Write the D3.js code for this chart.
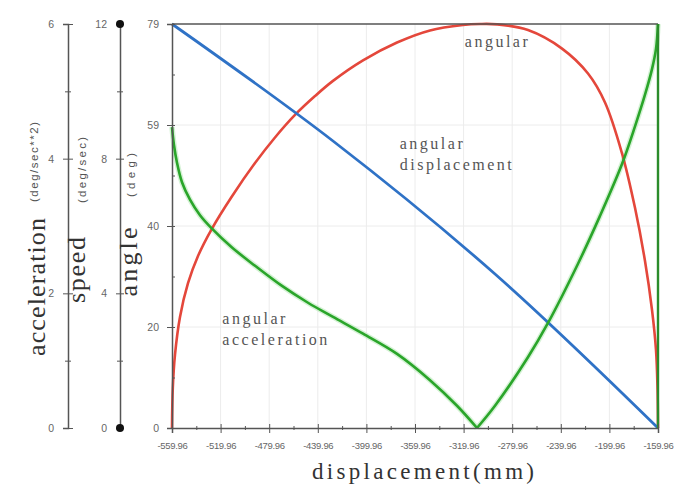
<!DOCTYPE html>
<html>
<head>
<meta charset="utf-8">
<script src="https://cdn.jsdelivr.net/npm/d3@7"></script>
<style>
  html, body { margin: 0; padding: 0; background: #fff; }
  svg { display: block; }
</style>
</head>
<body>
<svg id="chart" width="678" height="488"></svg>
<script>
// ---------------- data ----------------
const xTicks = [-559.96, -519.96, -479.96, -439.96, -399.96, -359.96, -319.96, -279.96, -239.96, -199.96, -159.96];
const xTickLabels = ["-559.96", "-519.96", "-479.96", "-439.96", "-399.96", "-359.96", "-319.96", "-279.96", "-239.96", "-199.96", "-159.96"];
const xMinorTicks = [-539.96, -499.96, -459.96, -419.96, -379.96, -339.96, -299.96, -259.96, -219.96, -179.96];

const angleTicks = [0, 19.75, 39.5, 59.25, 79];
const angleTickLabels = ["0", "20", "40", "59", "79"];
const angleMinorTicks = [9.875, 29.625, 49.375, 69.125];
const speedTicks = [0, 4, 8, 12];
const speedMinorTicks = [2, 10];
const accelTicks = [0, 2, 4, 6];
const accelMinorTicks = [1, 5];

// angular displacement (deg)
const dispX = [-559.96, -427.45, -294.12, -159.96];
const dispAngle = [79, 56.12, 30.11, 0];

// angular speed (deg/sec)
const speedX = [-559.96, -559.30, -557.49, -553.38, -546.79, -538.56, -527.28, -510.82, -491.65, -475.19, -458.73, -442.26, -427.45, -402.76, -374.77, -347.61, -320.45, -306.46, -292.47, -266.95, -238.97, -217.57, -203.58, -189.59, -178.89, -170.66, -164.90, -161.61, -160.37, -159.96];
const speedVal = [0, 1.19, 2.18, 3.30, 4.30, 5.11, 5.91, 6.87, 7.87, 8.63, 9.30, 9.86, 10.31, 10.92, 11.45, 11.81, 11.97, 12.0, 11.99, 11.82, 11.27, 10.53, 9.67, 8.16, 6.54, 4.96, 3.51, 2.32, 1.19, 0];

// angular acceleration (deg/sec^2): falling branch, rising branch, final drop
const accFallX = [-559.96, -558.31, -555.84, -551.73, -545.15, -536.91, -527.04, -510.58, -491.65, -469.42, -448.03, -427.45, -402.76, -374.77, -347.61, -325.39, -308.93];
const accFallVal = [4.47, 4.20, 3.94, 3.65, 3.39, 3.16, 2.96, 2.68, 2.41, 2.11, 1.86, 1.65, 1.40, 1.10, 0.71, 0.33, 0];
const accRiseX = [-308.93, -294.12, -267.00, -250.49, -225.80, -207.70, -189.59, -178.89, -170.66, -164.90, -161.61, -159.96];
const accRiseVal = [0, 0.33, 1.05, 1.56, 2.44, 3.15, 3.92, 4.48, 4.95, 5.33, 5.63, 6.0];
const accDropX = [-159.96, -159.96];
const accDropVal = [6.0, 0];

const labels = [
  { lines: ["angular"], x: -319, y: 74.5 },
  { lines: ["angular", "displacement"], x: -372.5, y: 54.5 },
  { lines: ["angular", "acceleration"], x: -518.5, y: 20.3 }
];

// ---------------- layout ----------------
const L = 172, R = 658, T = 24, B = 428;
const svg = d3.select("#chart");

const x = d3.scaleLinear().domain([-559.96, -159.96]).range([L, R]);
const yAngle = d3.scaleLinear().domain([0, 79]).range([B, T]);
const ySpeed = d3.scaleLinear().domain([0, 12]).range([B, T]);
const yAcc = d3.scaleLinear().domain([0, 6]).range([B, T]);

const axisColor = "#555";
const gridColor = "#ececec";

// grid
const grid = svg.append("g");
grid.selectAll("line.gx").data(xTicks.slice(1, -1)).enter().append("line")
  .attr("x1", d => x(d)).attr("x2", d => x(d)).attr("y1", T).attr("y2", B)
  .attr("stroke", gridColor).attr("stroke-width", 1);
grid.selectAll("line.gy").data(angleTicks.slice(1, -1)).enter().append("line")
  .attr("x1", L).attr("x2", R).attr("y1", d => yAngle(d)).attr("y2", d => yAngle(d))
  .attr("stroke", gridColor).attr("stroke-width", 1);

// curves
const colors = { disp: "#2f72c6", speed: "#e4473b", acc: "#2aa52a" };
function pts(xs, ys) { return xs.map((v, i) => [v, ys[i]]); }
const smooth = d3.curveCatmullRom.alpha(0.5);

const accLine = d3.line().x(d => x(d[0])).y(d => yAcc(d[1])).curve(smooth);
[pts(accFallX, accFallVal), pts(accRiseX, accRiseVal)].forEach(p => {
  svg.append("path").datum(p)
    .attr("fill", "none").attr("stroke", "#b9eab9").attr("stroke-width", 5.5).attr("opacity", 0.6)
    .attr("d", accLine);
});

svg.append("path")
  .datum(pts(speedX, speedVal))
  .attr("fill", "none").attr("stroke", colors.speed).attr("stroke-width", 2.6)
  .attr("d", d3.line().x(d => x(d[0])).y(d => ySpeed(d[1])).curve(smooth));

svg.append("path")
  .datum(pts(dispX, dispAngle))
  .attr("fill", "none").attr("stroke", colors.disp).attr("stroke-width", 2.8)
  .attr("d", d3.line().x(d => x(d[0])).y(d => yAngle(d[1])).curve(d3.curveCatmullRom));

[pts(accFallX, accFallVal), pts(accRiseX, accRiseVal)].forEach(p => {
  svg.append("path").datum(p)
    .attr("fill", "none").attr("stroke", colors.acc).attr("stroke-width", 2.6)
    .attr("d", accLine);
});

// frame (top and right)
svg.append("line").attr("x1", L).attr("x2", R).attr("y1", T).attr("y2", T)
  .attr("stroke", axisColor).attr("stroke-width", 1.5);
svg.append("line").attr("x1", R).attr("x2", R).attr("y1", T).attr("y2", B)
  .attr("stroke", axisColor).attr("stroke-width", 1.5);

svg.append("path")
  .datum(pts(accDropX, accDropVal))
  .attr("fill", "none").attr("stroke", "#2b8c2b").attr("stroke-width", 2.4)
  .attr("d", d3.line().x(d => x(d[0])).y(d => yAcc(d[1])));

// ---------------- axes ----------------
function styleAxis(g, fontSize) {
  g.select(".domain").attr("stroke", axisColor).attr("stroke-width", 1.5);
  g.selectAll(".tick line").attr("stroke", axisColor).attr("stroke-width", 1);
  g.selectAll(".tick text").attr("fill", "#666")
    .attr("font-family", "Liberation Sans, Arial, sans-serif")
    .attr("font-size", fontSize);
}

// x axis
const gx = svg.append("g").attr("transform", `translate(0,${B})`)
  .call(d3.axisBottom(x).tickValues(xTicks).tickFormat((d, i) => xTickLabels[i]).tickSizeOuter(0).tickSize(5).tickPadding(9));
styleAxis(gx, "9.5px");
gx.selectAll(".tick line").attr("y1", -4).attr("y2", 5);
gx.selectAll(".tick text").attr("letter-spacing", "-0.3px");
const gxm = svg.append("g").attr("transform", `translate(0,${B})`)
  .call(d3.axisBottom(x).tickValues(xMinorTicks).tickFormat("").tickSize(2).tickSizeOuter(0));
gxm.select(".domain").remove();
gxm.selectAll(".tick line").attr("stroke", axisColor).attr("y1", -2);

// angle axis
const ga = svg.append("g").attr("transform", `translate(${L},0)`)
  .call(d3.axisLeft(yAngle).tickValues(angleTicks).tickFormat((d, i) => angleTickLabels[i]).tickSizeOuter(0).tickSize(5).tickPadding(8));
styleAxis(ga, "10.5px");
ga.selectAll(".tick line").attr("x1", 3);
const gam = svg.append("g").attr("transform", `translate(${L},0)`)
  .call(d3.axisRight(yAngle).tickValues(angleMinorTicks).tickFormat("").tickSize(3).tickSizeOuter(0));
gam.select(".domain").remove();
gam.selectAll(".tick line").attr("stroke", axisColor);

// speed axis
const SX = 120;
const gs = svg.append("g").attr("transform", `translate(${SX},0)`)
  .call(d3.axisLeft(ySpeed).tickValues(speedTicks).tickFormat(d3.format("d")).tickSizeOuter(0).tickSize(4).tickPadding(9));
styleAxis(gs, "10.5px");
gs.selectAll(".tick line").attr("x1", 4).attr("x2", -4);
const gsm = svg.append("g").attr("transform", `translate(${SX},0)`)
  .call(d3.axisLeft(ySpeed).tickValues(speedMinorTicks).tickFormat("").tickSize(3).tickSizeOuter(0));
gsm.select(".domain").remove();
gsm.selectAll(".tick line").attr("stroke", axisColor).attr("x1", 3);
svg.selectAll("circle.end").data([0, 12]).enter().append("circle")
  .attr("cx", SX).attr("cy", d => ySpeed(d)).attr("r", 4).attr("fill", "#111");

// acceleration axis
const AX = 68;
const gc = svg.append("g").attr("transform", `translate(${AX},0)`)
  .call(d3.axisLeft(yAcc).tickValues(accelTicks).tickFormat(d3.format("d")).tickSizeOuter(0).tickSize(5).tickPadding(9));
styleAxis(gc, "10.5px");
gc.selectAll(".tick line").attr("x1", 5).attr("x2", -5);
const gcm = svg.append("g").attr("transform", `translate(${AX},0)`)
  .call(d3.axisLeft(yAcc).tickValues(accelMinorTicks).tickFormat("").tickSize(3).tickSizeOuter(0));
gcm.select(".domain").remove();
gcm.selectAll(".tick line").attr("stroke", axisColor).attr("x1", 3);

// ---------------- titles ----------------
const serif = "Liberation Serif, Times New Roman, serif";
function vtext(txt, bx, cy, size, len, family, color) {
  svg.append("text")
    .attr("transform", `translate(${bx},${cy}) rotate(-90)`)
    .attr("text-anchor", "middle")
    .attr("font-family", family).attr("font-size", size)
    .attr("fill", color)
    .attr("textLength", len).attr("lengthAdjust", "spacing")
    .text(txt);
}
vtext("acceleration", 45, 287, "26px", 138, serif, "#333");
vtext("speed", 85, 270, "26px", 66, serif, "#333");
vtext("angle", 137, 262, "26px", 69, serif, "#333");
const sans = "Liberation Sans, Arial, sans-serif";
vtext("(deg/sec**2)", 38, 162, "11.5px", 80, sans, "#555");
vtext("(deg/sec)", 86, 170, "11.5px", 66, sans, "#555");
vtext("(deg)", 135, 175, "11.5px", 44, sans, "#555");

svg.append("text")
  .attr("x", 312).attr("y", 479)
  .attr("font-family", serif).attr("font-size", "23px").attr("fill", "#333")
  .attr("textLength", 222).attr("lengthAdjust", "spacing")
  .text("displacement(mm)");

// annotations
const annLen = { "angular": 63, "displacement": 112, "acceleration": 105 };
labels.forEach(lb => {
  const t = svg.append("text")
    .attr("font-family", serif).attr("font-size", "16px").attr("fill", "#555");
  lb.lines.forEach((ln, i) => {
    t.append("tspan")
      .attr("x", x(lb.x)).attr("y", yAngle(lb.y) + i * 20.5)
      .attr("textLength", annLen[ln]).attr("lengthAdjust", "spacing")
      .text(ln);
  });
});
</script>
</body>
</html>
